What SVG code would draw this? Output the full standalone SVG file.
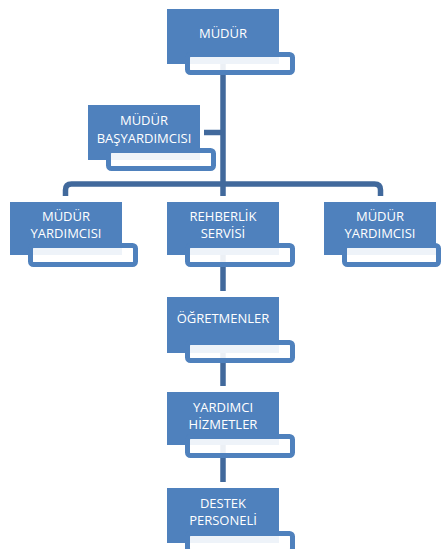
<svg xmlns="http://www.w3.org/2000/svg" width="443" height="549" viewBox="0 0 443 549">
<style>
.main{fill:#4f81bd;}
.sec{fill:#ffffff;fill-opacity:0.9;stroke:#4f81bd;stroke-width:5;}
.conn{fill:none;stroke:#41699c;stroke-width:5.5;stroke-linejoin:round;}
text{font-family:"Open Sans","Noto Sans",sans-serif;font-size:13px;fill:#ffffff;text-anchor:middle;}
</style>
<rect width="443" height="549" fill="#ffffff"/>
<g id="connectors">
<path class="conn" d="M223,60 V184"/>
<path class="conn" d="M204,132.5 H223"/>
<path class="conn" d="M65.5,196 V190 Q65.5,184 71.5,184 H374.5 Q380.5,184 380.5,190 V196"/>
<path class="conn" d="M223,184 V196"/>
<path class="conn" d="M223,255 V291"/>
<path class="conn" d="M223,350 V386"/>
<path class="conn" d="M223,445 V482"/>
</g>
<g id="mudur">
<rect class="main" x="167" y="9" width="112" height="55"/>
<rect class="sec" x="187.5" y="54.5" width="105" height="18" rx="3"/>
<text x="223" y="38">MÜDÜR</text>
</g>
<g id="basyardimcisi">
<rect class="main" x="88" y="105" width="112" height="55"/>
<rect class="sec" x="108.5" y="150.5" width="105" height="18" rx="3"/>
<text x="144" y="125">MÜDÜR</text>
<text x="144" y="143">BAŞYARDIMCISI</text>
</g>
<g id="yardimci-sol">
<rect class="main" x="10" y="202" width="112" height="53"/>
<rect class="sec" x="30.5" y="245.5" width="105" height="19" rx="3"/>
<text x="66" y="221">MÜDÜR</text>
<text x="66" y="238">YARDIMCISI</text>
</g>
<g id="rehberlik">
<rect class="main" x="167" y="202" width="112" height="53"/>
<rect class="sec" x="187.5" y="245.5" width="105" height="19" rx="3"/>
<text x="223" y="221">REHBERLİK</text>
<text x="223" y="238">SERVİSİ</text>
</g>
<g id="yardimci-sag">
<rect class="main" x="324" y="202" width="112" height="53"/>
<rect class="sec" x="344.5" y="245.5" width="94" height="19" rx="3"/>
<text x="380" y="221">MÜDÜR</text>
<text x="380" y="238">YARDIMCISI</text>
</g>
<g id="ogretmenler">
<rect class="main" x="167" y="297" width="112" height="56"/>
<rect class="sec" x="187.5" y="342.5" width="105" height="18" rx="3"/>
<text x="223" y="323">ÖĞRETMENLER</text>
</g>
<g id="yardimci-hizmetler">
<rect class="main" x="167" y="392" width="112" height="53"/>
<rect class="sec" x="187.5" y="436.5" width="105" height="19" rx="3"/>
<text x="223" y="412">YARDIMCI</text>
<text x="223" y="429">HİZMETLER</text>
</g>
<g id="destek-personeli">
<rect class="main" x="167" y="488" width="112" height="55"/>
<rect class="sec" x="187.5" y="533.5" width="105" height="18" rx="3"/>
<text x="223" y="508">DESTEK</text>
<text x="223" y="525">PERSONELİ</text>
</g>
</svg>
